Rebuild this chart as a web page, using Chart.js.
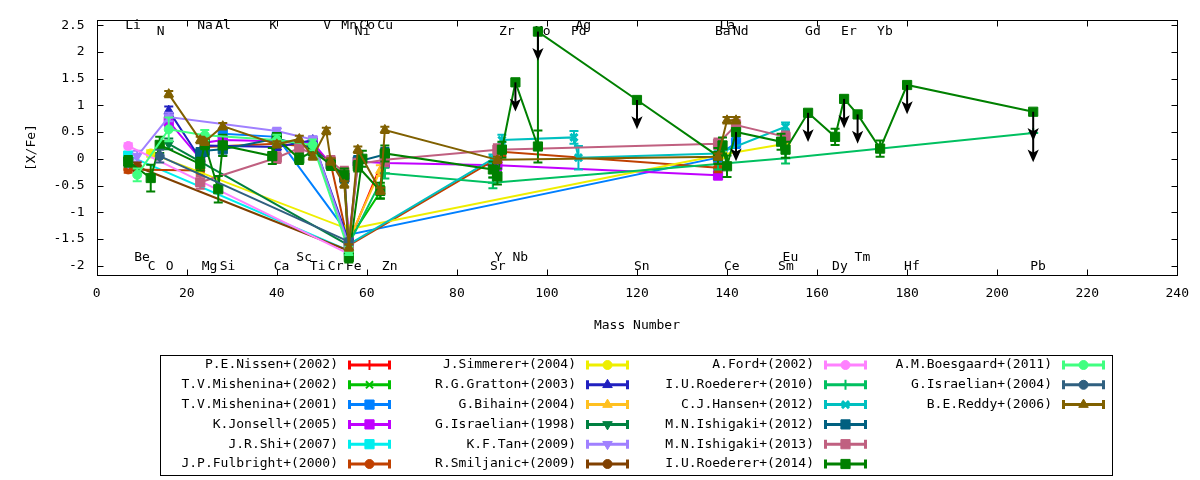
<!DOCTYPE html>
<html>
<head>
<meta charset="utf-8">
<script src="https://cdn.jsdelivr.net/npm/chart.js@4/dist/chart.umd.min.js"></script>
<style>html,body{margin:0;padding:0;background:#fff;overflow:hidden}canvas{display:block}</style>
</head>
<body>
<canvas id="c" width="1200" height="480"></canvas>
<script>
// ---- element table (mass number of the most abundant isotope) ----
const elements    = ['Li','Be','C','N','O','Na','Mg','Al','Si','K','Ca','Sc','Ti','V','Cr','Mn','Fe','Co','Ni','Cu','Zn','Sr','Y','Zr','Nb','Mo','Pd','Ag','Sn','Ba','La','Ce','Nd','Sm','Eu','Gd','Dy','Er','Tm','Yb','Hf','Pb'];
const massNumbers = [7,9,12,14,16,23,24,27,28,39,40,45,48,51,52,55,56,59,58,63,64,88,89,90,93,98,106,107,120,138,139,140,142,152,153,158,164,166,169,174,180,208];

// element name labels and their row (0/1 = top rows, 2/3 = bottom rows)
const labelElements = ['Li','N','Na','Al','K','V','Mn','Co','Ni','Cu','Zr','Mo','Pd','Ag','Ba','La','Nd','Gd','Er','Yb',
                       'Be','C','O','Mg','Si','Ca','Sc','Ti','Cr','Fe','Zn','Sr','Y','Nb','Sn','Ce','Sm','Eu','Dy','Tm','Hf','Pb'];
const labelRows = [0,1,0,0,0,0,0,0,1,0, 1,1,1,0,1,0,1,1,1,1,
                   2,3,3,3,3,3,2,3,3,3,3,3,2,2,3,3,3,2,3,2,3,3];

const yTickValues = [-2,-1.5,-1,-0.5,0,0.5,1,1.5,2,2.5];

// ---- series data: element, [X/Fe], error, upper limit flag ----
const nissen2002El  = ['Fe','Zn'];
const nissen2002Val = [-1.56, 0.06];
const nissen2002Err = [0.08, 0.10];

const mishenina2002El  = ['Fe','Cu','Zn'];
const mishenina2002Val = [-1.52,-0.62,0.02];
const mishenina2002Err = [0.10,0.12,0.10];

const mishenina2001El  = ['Si','Ca','Fe','Ba','La','Nd'];
const mishenina2001Val = [0.47,0.41,-1.42,0.02,0.12,0.30];
const mishenina2001Err = [0.08,0.08,0.10,0.10,0.10,0.10];

const jonsell2005El  = ['O','Na','Mg','Si','Ca','Ti','Cr','Mn','Fe','Ni','Zn','Y','Ba'];
const jonsell2005Val = [0.70,0.00,0.30,0.35,0.33,0.30,-0.10,-0.35,-1.50,-0.05,-0.08,-0.12,-0.31];
const jonsell2005Err = [0.10,0.08,0.06,0.08,0.06,0.08,0.06,0.08,0.08,0.06,0.08,0.10,0.08];

const shi2007El  = ['Li','Fe'];
const shi2007Val = [0.06,-1.72];
const shi2007Err = [0.06,0.08];

const fulbright2000El  = ['Li','Na','Mg','Ca','Ti','Cr','Fe','Y','Zr','Ba'];
const fulbright2000Val = [-0.20,-0.22,0.22,0.28,0.22,-0.10,-1.62,0.01,0.13,-0.17];
const fulbright2000Err = [0.06,0.06,0.06,0.06,0.06,0.06,0.06,0.08,0.08,0.08];

const simmerer2004El  = ['C','Fe','La','Eu'];
const simmerer2004Val = [0.10,-1.32,0.08,0.28];
const simmerer2004Err = [0.06,0.06,0.06,0.06];

const gratton2003El  = ['O','Na','Mg','Ca','Ti','Fe'];
const gratton2003Val = [0.90,0.00,0.25,0.22,0.35,-1.55];
const gratton2003Err = [0.08,0.06,0.06,0.06,0.06,0.06];

const bihain2004El  = ['Fe','Cu'];
const bihain2004Val = [-1.52,-0.22];
const bihain2004Err = [0.06,0.10];

const israelian1998El  = ['O','Fe'];
const israelian1998Val = [0.28,-1.62];
const israelian1998Err = [0.10,0.06];

const tan2009El  = ['Li','Be','O','Ca','Ti','Fe'];
const tan2009Val = [-0.08,0.05,0.78,0.52,0.36,-1.62];
const tan2009Err = [0.06,0.10,0.08,0.06,0.06,0.06];

const smiljanic2009El  = ['Be','Fe'];
const smiljanic2009Val = [-0.15,-1.72];
const smiljanic2009Err = [0.08,0.06];

const ford2002El  = ['Li','Fe'];
const ford2002Val = [0.24,-1.78];
const ford2002Err = [0.05,0.06];

const roederer2010El  = ['Fe','Zn','Sr','Ba','Eu','Pb'];
const roederer2010Val = [-1.60,-0.27,-0.45,-0.10,0.01,0.48];
const roederer2010Err = [0.06,0.10,0.10,0.10,0.10,0];
const roederer2010UL  = [0,0,0,0,0,1];

const hansen2012El  = ['Fe','Sr','Zr','Pd','Ag','Ba','Eu'];
const hansen2012Val = [-1.60,0.00,0.35,0.40,0.02,0.10,0.60];
const hansen2012Err = [0.06,0.08,0.10,0.12,0.22,0.08,0.08];

const ishigaki2012El  = ['Na','Mg','Si','Ca','Ti','Cr','Mn','Fe','Ni','Zn'];
const ishigaki2012Val = [0.10,0.15,0.18,0.38,0.20,-0.10,-0.35,-1.60,-0.05,0.08];
const ishigaki2012Err = [0.10,0.10,0.12,0.10,0.10,0.10,0.10,0.08,0.10,0.12];

const ishigaki2013El  = ['Na','Ca','Sc','Cr','Mn','Fe','Ni','Zn','Y','Ba','Nd','Eu'];
const ishigaki2013Val = [-0.44,0.02,0.20,-0.05,-0.25,-1.62,-0.10,-0.02,0.17,0.28,0.63,0.41];
const ishigaki2013Err = [0.12,0.10,0.10,0.10,0.10,0.08,0.10,0.12,0.10,0.10,0.10,0.10];

const roederer2014El  = ['Li','C','N','Na','Mg','Al','Si','K','Ca','Sc','Ti','Cr','Mn','Fe','Co','Ni','Cu','Zn',
                         'Sr','Y','Zr','Nb','Mo','Mo','Sn','Ba','La','Ce','Nd','Sm','Eu','Gd','Dy','Er','Tm','Yb','Hf','Pb'];
const roederer2014Val = [-0.05,-0.36,0.26,-0.10,0.28,-0.57,0.25,0.05,0.38,0.00,0.14,-0.11,-0.30,-1.84,0.00,-0.14,-0.60,0.10,
                         -0.20,-0.33,0.17,1.43,0.23,2.38,1.10,0.05,0.25,-0.14,0.50,0.32,0.17,0.86,0.41,1.12,0.83,0.19,1.38,0.88];
const roederer2014Err = [0.10,0.25,0.15,0.12,0.10,0.25,0.20,0.15,0.10,0.10,0.12,0.10,0.12,0.10,0.15,0.10,0.15,0.15,
                         0.15,0.15,0.15,0,0.30,0,0,0.15,0.15,0.20,0,0.15,0.15,0,0.15,0,0,0.15,0,0];
const roederer2014UL  = [0,0,0,0,0,0,0,0,0,0,0,0,0,0,0,0,0,0,
                         0,0,0,1,0,1,1,0,0,0,1,0,0,1,0,1,1,0,1,1];

const boesgaard2011El  = ['Be','O','Mg','Ca','Ti','Fe'];
const boesgaard2011Val = [-0.30,0.55,0.44,0.35,0.26,-1.72];
const boesgaard2011Err = [0.12,0.22,0.10,0.10,0.10,0.08];

const israelian2004El  = ['N','Fe'];
const israelian2004Val = [0.05,-1.55];
const israelian2004Err = [0.12,0.06];

const reddy2006El  = ['O','Na','Mg','Si','Ca','Sc','Ti','V','Cr','Mn','Fe','Ni','Cu','Zn','Y','Ba','Ce','Nd'];
const reddy2006Val = [1.21,0.35,0.32,0.61,0.27,0.37,0.04,0.52,-0.05,-0.48,-1.66,0.17,-0.60,0.54,-0.02,0.04,0.72,0.72];
const reddy2006Err = [0.06,0.06,0.06,0.06,0.06,0.06,0.06,0.06,0.06,0.06,0.06,0.06,0.06,0.06,0.06,0.06,0.06,0.06];

const seriesNames = ['P.E.Nissen+(2002)','T.V.Mishenina+(2002)','T.V.Mishenina+(2001)','K.Jonsell+(2005)','J.R.Shi+(2007)','J.P.Fulbright+(2000)',
  'J.Simmerer+(2004)','R.G.Gratton+(2003)','G.Bihain+(2004)','G.Israelian+(1998)','K.F.Tan+(2009)','R.Smiljanic+(2009)',
  'A.Ford+(2002)','I.U.Roederer+(2010)','C.J.Hansen+(2012)','M.N.Ishigaki+(2012)','M.N.Ishigaki+(2013)','I.U.Roederer+(2014)',
  'A.M.Boesgaard+(2011)','G.Israelian+(2004)','B.E.Reddy+(2006)'];
const seriesEl  = [nissen2002El,mishenina2002El,mishenina2001El,jonsell2005El,shi2007El,fulbright2000El,simmerer2004El,gratton2003El,
  bihain2004El,israelian1998El,tan2009El,smiljanic2009El,ford2002El,roederer2010El,hansen2012El,ishigaki2012El,ishigaki2013El,
  roederer2014El,boesgaard2011El,israelian2004El,reddy2006El];
const seriesVal = [nissen2002Val,mishenina2002Val,mishenina2001Val,jonsell2005Val,shi2007Val,fulbright2000Val,simmerer2004Val,gratton2003Val,
  bihain2004Val,israelian1998Val,tan2009Val,smiljanic2009Val,ford2002Val,roederer2010Val,hansen2012Val,ishigaki2012Val,ishigaki2013Val,
  roederer2014Val,boesgaard2011Val,israelian2004Val,reddy2006Val];
const seriesErr = [nissen2002Err,mishenina2002Err,mishenina2001Err,jonsell2005Err,shi2007Err,fulbright2000Err,simmerer2004Err,gratton2003Err,
  bihain2004Err,israelian1998Err,tan2009Err,smiljanic2009Err,ford2002Err,roederer2010Err,hansen2012Err,ishigaki2012Err,ishigaki2013Err,
  roederer2014Err,boesgaard2011Err,israelian2004Err,reddy2006Err];
const seriesUL = {13: roederer2010UL, 17: roederer2014UL};

// ---- styles (not data) ----
const seriesStyle = [
  {c:'#ff0000',p:'cross',r:5,bw:2},
  {c:'#00c000',p:'crossRot',r:5,bw:2},
  {c:'#0080ff',p:'rect',r:6.5,bw:1},
  {c:'#c000ff',p:'rect',r:6.5,bw:1},
  {c:'#00eeee',p:'rect',r:6.5,bw:1},
  {c:'#c04000',p:'circle',r:4.5,bw:1},
  {c:'#eeee00',p:'circle',r:4.5,bw:1},
  {c:'#2020c0',p:'triangle',r:5.5,bw:1},
  {c:'#ffc020',p:'triangle',r:5.5,bw:1},
  {c:'#008040',p:'triangle',r:5.5,bw:1,rot:180},
  {c:'#a080ff',p:'triangle',r:5.5,bw:1,rot:180},
  {c:'#804000',p:'circle',r:4.5,bw:1},
  {c:'#ff80ff',p:'circle',r:4.5,bw:1},
  {c:'#00c060',p:'cross',r:5,bw:2},
  {c:'#00c0c0',p:'crossRot',r:5,bw:3},
  {c:'#006080',p:'rect',r:6.5,bw:1},
  {c:'#c06080',p:'rect',r:6.5,bw:1},
  {c:'#008000',p:'rect',r:6.5,bw:1},
  {c:'#40ff80',p:'circle',r:4.5,bw:1},
  {c:'#306080',p:'circle',r:4.5,bw:1},
  {c:'#806000',p:'triangle',r:5.5,bw:1}
];

const FONT = '"DejaVu Sans Mono", monospace';
Chart.defaults.font.family = FONT;
Chart.defaults.font.size = 13;
Chart.defaults.color = '#000';

const datasets = seriesNames.map((name, i) => {
  const st = seriesStyle[i];
  return {
    label: name,
    data: seriesEl[i].map((el, j) => ({x: massNumbers[elements.indexOf(el)], y: seriesVal[i][j]})),
    errs: seriesErr[i],
    uls: seriesUL[i] || null,
    borderColor: st.c, backgroundColor: st.c,
    pointBackgroundColor: st.c, pointBorderColor: st.c,
    borderWidth: 2, pointStyle: st.p, pointRadius: st.r, pointBorderWidth: st.bw,
    pointRotation: st.rot || 0, pointHoverRadius: st.r,
    tension: 0, fill: false, spanGaps: true,
    order: seriesNames.length - 1 - i
  };
});

const gnuplotDecor = {
  id: 'gnuplotDecor',
  beforeDatasetsDraw(chart, args, opts) {
    const {ctx, chartArea: a, scales: {x, y}} = chart;
    ctx.save();
    // element names
    ctx.font = '13px ' + FONT;
    ctx.fillStyle = '#000';
    ctx.textAlign = 'left';
    ctx.textBaseline = 'middle';
    labelElements.forEach((el, i) => {
      const m = massNumbers[elements.indexOf(el)];
      ctx.fillText(el, x.getPixelForValue(m) - 3, y.getPixelForValue(opts.rowValues[labelRows[i]]));
    });
    // frame and inward mirrored ticks
    ctx.strokeStyle = '#000';
    ctx.lineWidth = 1;
    const L = Math.round(a.left) + 0.5, R = Math.round(a.right) + 0.5;
    const T = Math.round(a.top) + 0.5, B = Math.round(a.bottom) + 0.5;
    ctx.strokeRect(L, T, R - L, B - T);
    ctx.beginPath();
    x.ticks.forEach(t => {
      const px = Math.round(x.getPixelForValue(t.value)) + 0.5;
      ctx.moveTo(px, B); ctx.lineTo(px, B - 6);
      ctx.moveTo(px, T); ctx.lineTo(px, T + 6);
    });
    y.ticks.forEach(t => {
      const py = Math.round(y.getPixelForValue(t.value)) + 0.5;
      ctx.moveTo(L, py); ctx.lineTo(L + 6, py);
      ctx.moveTo(R, py); ctx.lineTo(R - 6, py);
    });
    ctx.stroke();
    ctx.restore();
  },
  beforeDatasetDraw(chart, args) {
    const {ctx, scales: {x, y}} = chart;
    const ds = chart.data.datasets[args.index];
    ctx.save();
    ctx.strokeStyle = ds.borderColor;
    ctx.lineWidth = 2;
    ctx.beginPath();
    ds.data.forEach((d, j) => {
      const e = ds.errs[j];
      if (!e) return;
      const px = x.getPixelForValue(d.x);
      const y1 = y.getPixelForValue(d.y + e), y2 = y.getPixelForValue(d.y - e);
      ctx.moveTo(px, y1); ctx.lineTo(px, y2);
      ctx.moveTo(px - 4.5, y1); ctx.lineTo(px + 4.5, y1);
      ctx.moveTo(px - 4.5, y2); ctx.lineTo(px + 4.5, y2);
    });
    ctx.stroke();
    ctx.restore();
  },
  afterDatasetsDraw(chart, args, opts) {
    const {ctx, scales: {x, y}} = chart;
    ctx.save();
    ctx.strokeStyle = '#000';
    ctx.fillStyle = '#000';
    ctx.lineWidth = 2;
    chart.data.datasets.forEach(ds => {
      if (!ds.uls) return;
      ds.data.forEach((d, j) => {
        if (!ds.uls[j]) return;
        const px = x.getPixelForValue(d.x);
        const y0 = y.getPixelForValue(d.y);
        const y1 = y.getPixelForValue(d.y - opts.arrowLength);
        ctx.beginPath();
        ctx.moveTo(px, y0); ctx.lineTo(px, y1 - 6);
        ctx.stroke();
        ctx.beginPath();
        ctx.moveTo(px, y1);
        ctx.lineTo(px - 3.5, y1 - 8);
        ctx.lineTo(px, y1 - 6);
        ctx.lineTo(px + 3.5, y1 - 8);
        ctx.closePath();
        ctx.fill();
        ctx.stroke();
      });
    });
    ctx.restore();
  },
  afterDraw(chart) {
    const ctx = chart.ctx;
    const dsets = chart.data.datasets;
    ctx.save();
    ctx.strokeStyle = '#000';
    ctx.lineWidth = 1;
    ctx.strokeRect(160.5, 355.5, 952, 120);
    ctx.font = '13px ' + FONT;
    ctx.textAlign = 'right';
    ctx.textBaseline = 'middle';
    dsets.forEach((ds, i) => {
      const col = Math.floor(i / 6), row = i % 6;
      const tx = 338 + col * 238, ty = 365 + row * 19.8;
      ctx.fillStyle = '#000';
      ctx.fillText(ds.label, tx, ty);
      const x0 = tx + 10, x1 = tx + 53;
      ctx.strokeStyle = ds.borderColor;
      ctx.fillStyle = ds.borderColor;
      ctx.lineWidth = 3;
      ctx.beginPath();
      ctx.moveTo(x0, ty); ctx.lineTo(x1, ty);
      ctx.moveTo(x0 + 1.5, ty - 4.5); ctx.lineTo(x0 + 1.5, ty + 4.5);
      ctx.moveTo(x1 - 1.5, ty - 4.5); ctx.lineTo(x1 - 1.5, ty + 4.5);
      ctx.stroke();
      ctx.lineWidth = ds.pointBorderWidth;
      Chart.helpers.drawPoint(ctx, {pointStyle: ds.pointStyle, radius: ds.pointRadius,
        rotation: ds.pointRotation, borderWidth: ds.pointBorderWidth}, (x0 + x1) / 2, ty);
    });
    ctx.restore();
  }
};

new Chart(document.getElementById('c'), {
  type: 'line',
  data: {datasets},
  options: {
    responsive: false,
    animation: false,
    devicePixelRatio: 1,
    events: [],
    layout: {padding: {left: 0, top: 17.3, right: 22.7, bottom: 140}},
    plugins: {
      legend: {display: false},
      tooltip: {enabled: false},
      gnuplotDecor: {rowValues: [2.49, 2.37, -1.84, -2.026], arrowLength: 0.5}
    },
    scales: {
      x: {
        type: 'linear', min: 0, max: 240,
        ticks: {stepSize: 20, color: '#000', padding: 11, maxRotation: 0, font: {size: 13, family: FONT}},
        grid: {display: false, drawTicks: false},
        border: {display: false},
        title: {display: true, text: 'Mass Number', color: '#000', font: {size: 13, family: FONT}, padding: {top: 0, bottom: 7}},
        afterFit(s) { s.height = 64.7; }
      },
      y: {
        type: 'linear', min: -2.18, max: 2.6,
        afterBuildTicks(s) { s.ticks = yTickValues.map(v => ({value: v})); },
        ticks: {color: '#000', padding: 12, font: {size: 13, family: FONT}, callback: v => String(v)},
        grid: {display: false, drawTicks: false},
        border: {display: false},
        title: {display: true, text: '[X/Fe]', color: '#000', font: {size: 13, family: FONT}, padding: {top: 24, bottom: 0}},
        afterFit(s) { s.width = 96.7; }
      }
    }
  },
  plugins: [gnuplotDecor]
});
</script>
</body>
</html>
